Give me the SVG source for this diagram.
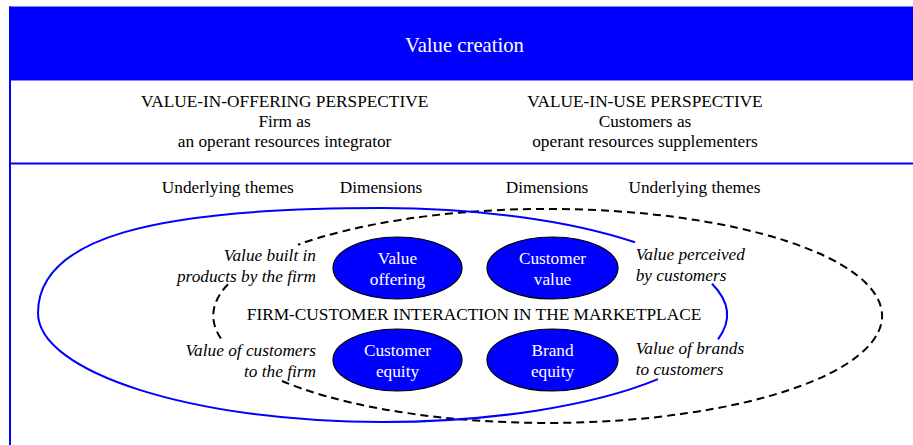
<svg xmlns="http://www.w3.org/2000/svg" width="913" height="445" viewBox="0 0 913 445">
  <style>
    text { font-family: "Liberation Serif", "Times New Roman", serif; font-size: 17.3px; fill: #000; }
    .mid { text-anchor: middle; }
    .end { text-anchor: end; }
    .it { font-style: italic; }
    .white { fill: #fff; }
    .title { font-size: 20.7px; }
    .frame { stroke: #0000ff; stroke-width: 2; fill: none; }
    .node { fill: #0000ff; stroke: #000; stroke-width: 1.2; }
    .firm { fill: none; stroke: #0000ff; stroke-width: 2; }
    .cust { fill: none; stroke: #000; stroke-width: 2; stroke-dasharray: 8 5; }
  </style>

  <!-- frame: header band, left rule and separator -->
  <g id="frame">
    <rect x="9" y="6.5" width="904" height="74" fill="#0000ff"/>
    <line class="frame" x1="10" y1="6.5" x2="10" y2="445"/>
    <line class="frame" x1="10" y1="163.5" x2="913" y2="163.5"/>
  </g>

  <g id="header">
    <text class="mid white title" x="464.5" y="52.3">Value creation</text>
  </g>

  <g id="perspective-offering">
    <text class="mid" x="284.6" y="106.7">VALUE-IN-OFFERING PERSPECTIVE</text>
    <text class="mid" x="284.6" y="126.7">Firm as</text>
    <text class="mid" x="284.6" y="146.7">an operant resources integrator</text>
  </g>

  <g id="perspective-use">
    <text class="mid" x="645" y="106.7">VALUE-IN-USE PERSPECTIVE</text>
    <text class="mid" x="645" y="126.7">Customers as</text>
    <text class="mid" x="645" y="146.7">operant resources supplementers</text>
  </g>

  <g id="column-heads">
    <text class="mid" x="227.8" y="193.3">Underlying themes</text>
    <text class="mid" x="381" y="193.3">Dimensions</text>
    <text class="mid" x="547" y="193.3">Dimensions</text>
    <text class="mid" x="694.4" y="193.3">Underlying themes</text>
  </g>

  <!-- the two overlapping perspective boundaries, broken where labels sit -->
  <g id="connectors">
    <path class="cust" d="M282,381 A334.5,107 0 1 0 298,244.7"/>
    <path class="cust" d="M228,284.3 A334.5,107 0 0 0 223.5,342"/>
    <path class="firm" d="M658,379.2 A345,107 0 0 1 382,422 C192,422 38,372 38,313 C38,238 152,208 382,208 A345,107 0 0 1 635,242.3"/>
    <path class="firm" d="M712,283.8 A345,107 0 0 1 718,339.3"/>
  </g>

  <g id="themes">
    <text class="end it" x="316" y="261">Value built in</text>
    <text class="end it" x="316" y="281.7">products by the firm</text>
    <text class="end it" x="316" y="356">Value of customers</text>
    <text class="end it" x="316" y="376.7">to the firm</text>
    <text class="it" x="635.7" y="260">Value perceived</text>
    <text class="it" x="635.7" y="281">by customers</text>
    <text class="it" x="635.7" y="354">Value of brands</text>
    <text class="it" x="635.7" y="375">to customers</text>
  </g>

  <g id="marketplace">
    <text class="mid" x="474" y="320">FIRM-CUSTOMER INTERACTION IN THE MARKETPLACE</text>
  </g>

  <g id="value-offering">
    <ellipse class="node" cx="397.5" cy="268" rx="64.5" ry="31"/>
    <text class="mid white" x="397.5" y="264.3">Value</text>
    <text class="mid white" x="397.5" y="285">offering</text>
  </g>

  <g id="customer-value">
    <ellipse class="node" cx="552.5" cy="268" rx="65.5" ry="31"/>
    <text class="mid white" x="552.5" y="264.3">Customer</text>
    <text class="mid white" x="552.5" y="285">value</text>
  </g>

  <g id="customer-equity">
    <ellipse class="node" cx="397.5" cy="360" rx="64.5" ry="31"/>
    <text class="mid white" x="397.5" y="355.7">Customer</text>
    <text class="mid white" x="397.5" y="376.7">equity</text>
  </g>

  <g id="brand-equity">
    <ellipse class="node" cx="552.5" cy="360" rx="65.5" ry="31"/>
    <text class="mid white" x="552.5" y="355.7">Brand</text>
    <text class="mid white" x="552.5" y="376.7">equity</text>
  </g>
</svg>
